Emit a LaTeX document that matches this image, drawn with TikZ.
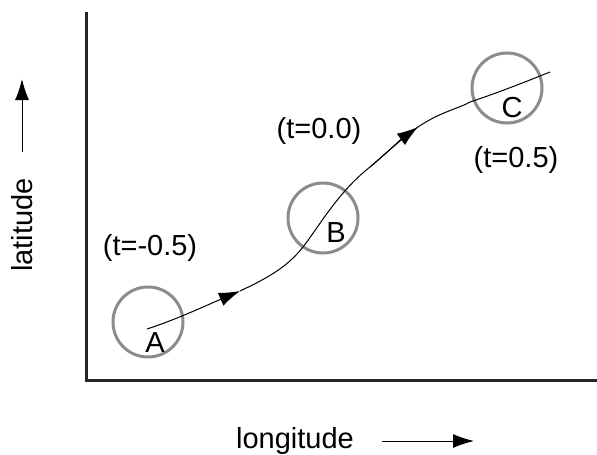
\documentclass[tikz,border=0pt]{standalone}
\usepackage{fontspec}
\setmainfont{Liberation Sans}
\usetikzlibrary{arrows.meta}
\begin{document}
\begin{tikzpicture}[x=1pt,y=-1pt,
  lbl/.style={inner sep=0pt,font=\fontsize{29}{29}\selectfont},
  ring/.style={circle,draw=black!45,line width=3pt,minimum size=70pt,inner sep=0pt},
  axis/.style={line width=3pt,draw=black!85},
  path/.style={line width=1pt},
  tip/.style={-{Latex[length=21pt,width=14pt]}}]
\useasboundingbox (0,0) rectangle (597,455);
% axes
\coordinate (top) at (86,12);
\coordinate (orig) at (86,380);
\coordinate (right) at (597,380);
\draw[axis] (top) -- (orig) -- (right);
% circles
\node[ring] (cA) at (148,322) {};
\node[ring] (cB) at (323,218) {};
\node[ring] (cC) at (507,88) {};
\node[lbl] (A) at (155,343) {A};
\node[lbl] (B) at (336,233) {B};
\node[lbl] (C) at (512,108) {C};
\node[lbl] (tA) at (150,248) {(t=-0.5)};
\node[lbl] (tB) at (319,131) {(t=0.0)};
\node[lbl] (tC) at (516,160) {(t=0.5)};
% trajectory
\coordinate (p0) at (147,329);
\coordinate (p1) at (240,291);
\coordinate (p2) at (303,247);
\coordinate (p3) at (418,127);
\coordinate (p4) at (550,72);
\draw[path,tip] (p0) .. controls (175,320) and (205,306) .. (p1);
\draw[path] (p1) .. controls (270,277) and (288,266) .. (p2)
  .. controls (318,228) and (338,192) .. (370,167)
  .. controls (390,150) and (400,140) .. (p3);
\draw[path,tip] (370,167) .. controls (390,150) and (400,140) .. (p3);
\draw[path] (p3) .. controls (440,112) and (460,108) .. (470,102)
  .. controls (500,92) and (525,82) .. (p4);
% axis labels
\node[lbl,rotate=90] (lat) at (22,225) {latitude};
\coordinate (la0) at (22,152);
\coordinate (la1) at (22,79);
\draw[line width=1pt,tip] (la0) -- (la1);
\node[lbl] (lon) at (295,441) {longitude};
\coordinate (lo0) at (382,441);
\coordinate (lo1) at (474,441);
\draw[line width=1pt,tip] (lo0) -- (lo1);
\end{tikzpicture}
\end{document}
